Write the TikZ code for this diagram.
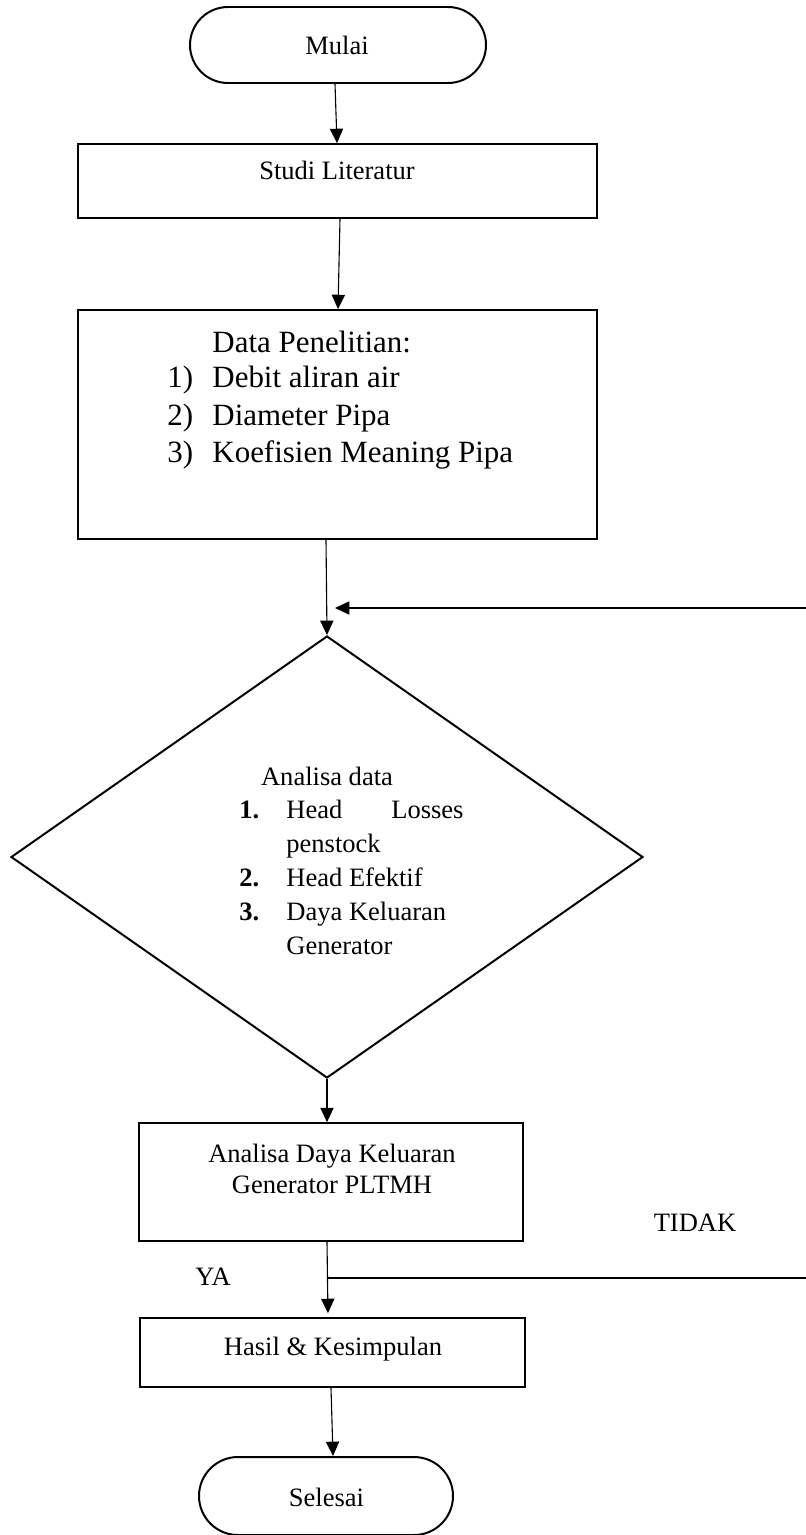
\documentclass[tikz,border=0pt]{standalone}
\usepackage{fontspec}
\setmainfont{Liberation Serif}
\usetikzlibrary{shapes.misc,shapes.geometric,arrows.meta,calc}
\def\PX{0.4525pt}
\begin{document}
\begin{tikzpicture}[x=0.4525pt,y=-0.4525pt,
  boxed/.style={draw, line width=0.8pt, rectangle, inner sep=0pt},
  term/.style={draw, line width=0.9pt, rounded rectangle, inner sep=0pt},
  decis/.style={draw, line width=0.9pt, diamond, inner sep=0pt},
  arr/.style={line width=0.5pt, -{Triangle[length=6.5pt,width=6pt]}},
  con/.style={line width=0.5pt},
  txt/.style={font=\fontsize{12}{14}\selectfont, inner sep=0pt},
  big/.style={font=\fontsize{14}{16}\selectfont, inner sep=0pt}]
\useasboundingbox (0,0) rectangle (806,1535);

% shapes
\node[term, minimum width=296*\PX, minimum height=76*\PX] (mulai) at (338,45) {};
\node[boxed, minimum width=519*\PX, minimum height=74*\PX] (studi) at (337.5,181) {};
\node[boxed, minimum width=519*\PX, minimum height=229*\PX] (data) at (337.5,424.5) {};
\node[decis, minimum width=632*\PX, minimum height=442*\PX] (dia) at (327,857) {};
\node[boxed, minimum width=384*\PX, minimum height=118*\PX] (ana) at (331,1182) {};
\node[boxed, minimum width=385*\PX, minimum height=69*\PX] (hasil) at (332.5,1352.5) {};
\node[term, minimum width=254*\PX, minimum height=78*\PX] (selesai) at (326,1496) {};

% texts
\node[txt, anchor=base] (tmulai) at (337,55) {Mulai};
\node[txt, anchor=base] (tstudi) at (337,180) {Studi Literatur};

\node[big, anchor=base west] (td0) at (212,352) {Data Penelitian:};
\node[big, anchor=base west] (tn1) at (167,387) {1)};
\node[big, anchor=base west] (td1) at (212,387) {Debit aliran air};
\node[big, anchor=base west] (tn2) at (167,425) {2)};
\node[big, anchor=base west] (td2) at (212,425) {Diameter Pipa};
\node[big, anchor=base west] (tn3) at (167,462) {3)};
\node[big, anchor=base west] (td3) at (212,462) {Koefisien Meaning Pipa};

\node[txt, anchor=base] (ta0) at (327,785) {Analisa data};
\node[txt, anchor=base west] (tan1) at (239,818) {\bfseries 1.};
\node[txt, anchor=base west] (ta1a) at (286,818) {Head};
\node[txt, anchor=base east] (ta1b) at (464,818) {Losses};
\node[txt, anchor=base west] (ta1c) at (286,852) {penstock};
\node[txt, anchor=base west] (tan2) at (239,886) {\bfseries 2.};
\node[txt, anchor=base west] (ta2) at (286,886) {Head Efektif};
\node[txt, anchor=base west] (tan3) at (239,920) {\bfseries 3.};
\node[txt, anchor=base west] (ta3) at (286,920) {Daya Keluaran};
\node[txt, anchor=base west] (ta3b) at (286,954) {Generator};

\node[txt, anchor=base] (tana1) at (332,1162) {Analisa Daya Keluaran};
\node[txt, anchor=base] (tana2) at (332,1193) {Generator PLTMH};
\node[txt, anchor=base] (thasil) at (333,1355) {Hasil \& Kesimpulan};
\node[txt, anchor=base] (tsel) at (326.5,1506) {Selesai};
\node[txt, anchor=base] (ttidak) at (695,1231) {TIDAK};
\node[txt, anchor=base] (tya) at (213,1285) {YA};

% connectors
\draw[arr] ($(mulai.south)+(-3,0)$) -- ($(studi.north)+(-0.5,0)$);
\draw[arr] ($(studi.south)+(2.5,0)$) -- ($(data.north)+(0.5,0)$);
\draw[arr] ($(data.south)+(-11.5,0)$) -- (dia.north);
\coordinate (loopin) at (806,608);
\coordinate (loopend) at (335,608);
\draw[arr] (loopin) -- (loopend);
\draw[arr] (dia.south) -- ($(ana.north)+(-4,0)$);
\draw[arr, shorten >=4*\PX] ($(ana.south)+(-4,0)$) -- ($(hasil.north)+(-4.5,0)$);
\coordinate (ybr) at (328,1278);
\coordinate (loopout) at (806,1278);
\draw[con] (ybr) -- (loopout);
\draw[arr] ($(hasil.south)+(-1.5,0)$) -- ($(selesai.north)+(7,0)$);
\end{tikzpicture}
\end{document}
